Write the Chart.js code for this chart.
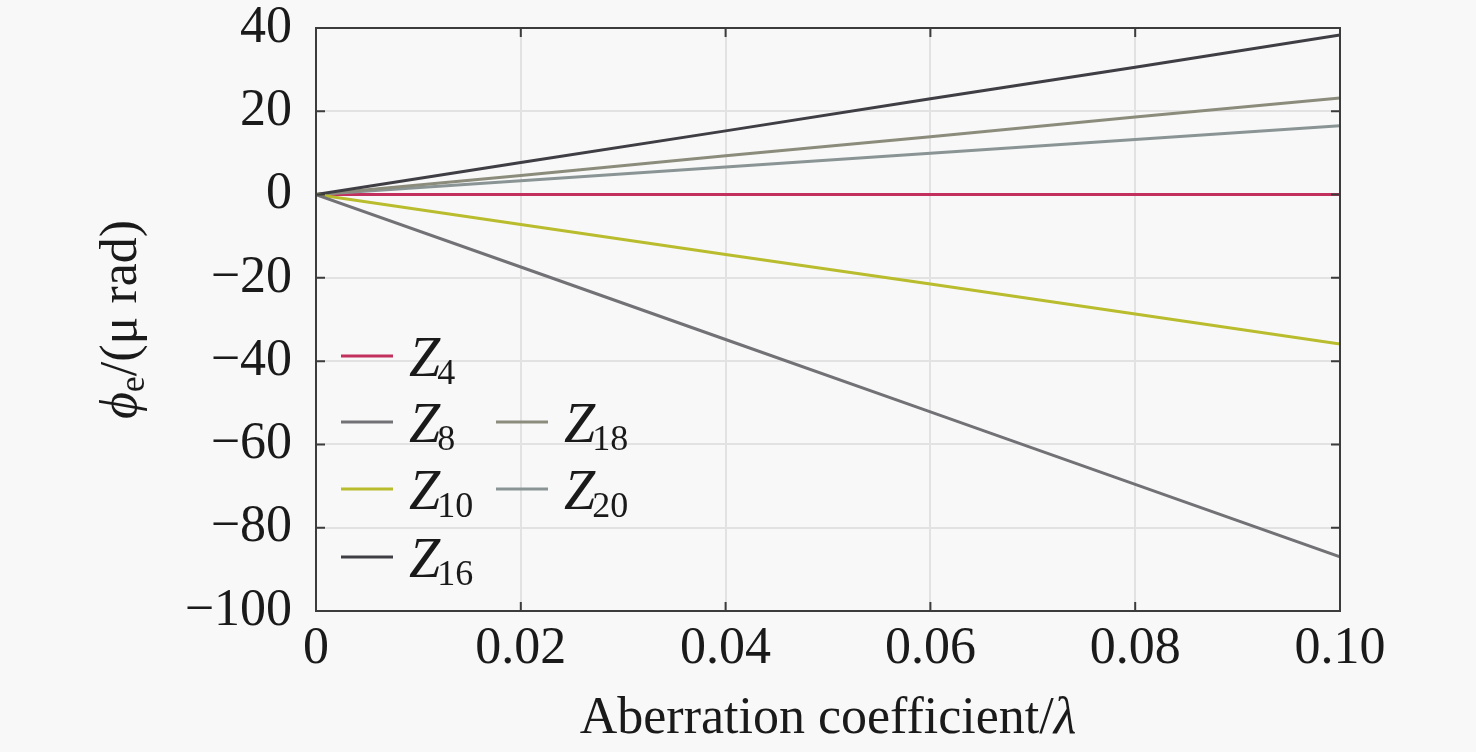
<!DOCTYPE html>
<html lang="en">
<head>
<meta charset="UTF-8">
<title>Tilt error vs aberration coefficient</title>
<script src="https://cdn.jsdelivr.net/npm/chart.js"></script>
<style>
  html, body { margin: 0; padding: 0; background: #f8f8f8; }
  #wrap { width: 1476px; height: 752px; }
</style>
</head>
<body>
<div id="wrap"><canvas id="chart" width="1476" height="752"></canvas></div>
<script>
// values
const coefficients = [0, 0.02, 0.04, 0.06, 0.08, 0.10];
const z4Values  = [0, 0, 0, 0, 0, 0];
const z8Values  = [0, -17.4, -34.8, -52.2, -69.6, -87.0];
const z10Values = [0, -7.2, -14.4, -21.5, -28.7, -35.9];
const z16Values = [0, 7.7, 15.3, 23.0, 30.6, 38.3];
const z18Values = [0, 4.6, 9.3, 13.9, 18.6, 23.2];
const z20Values = [0, 3.3, 6.6, 9.9, 13.2, 16.5];

const seriesNames = ['4', '8', '10', '16', '18', '20'];
const seriesValues = [z4Values, z8Values, z10Values, z16Values, z18Values, z20Values];
const seriesColors = ['#c2305e', '#727276', '#b9bc2c', '#3e3e44', '#8c8c7c', '#8a9494'];

const SERIF = "'Liberation Serif', 'Times New Roman', serif";
const FONT_SIZE = 52;
const LEG_SIZE = 56;
const SUB_SIZE = 36;

const datasets = seriesValues.map((vals, i) => ({
    label: 'Z' + seriesNames[i],
    data: coefficients.map((x, j) => ({ x: x, y: vals[j] })),
    borderColor: seriesColors[i],
    borderWidth: 3,
    pointRadius: 0,
    fill: false,
    tension: 0
}));
// draw Z4 on top like the reference
datasets.push(datasets.shift());

// box, inward ticks, legend and axis titles
const decorPlugin = {
    id: 'decor',
    afterDatasetsDraw(chart) {
        const ctx = chart.ctx;
        const a = chart.chartArea;
        const xs = chart.scales.x, ys = chart.scales.y;
        ctx.save();
        ctx.strokeStyle = '#3c3c3c';
        ctx.lineWidth = 2;
        ctx.strokeRect(a.left, a.top, a.right - a.left, a.bottom - a.top);
        const tl = 9;
        ctx.beginPath();
        xs.ticks.forEach(t => {
            const px = xs.getPixelForValue(t.value);
            ctx.moveTo(px, a.bottom); ctx.lineTo(px, a.bottom - tl);
            ctx.moveTo(px, a.top); ctx.lineTo(px, a.top + tl);
        });
        ys.ticks.forEach(t => {
            const py = ys.getPixelForValue(t.value);
            ctx.moveTo(a.left, py); ctx.lineTo(a.left + tl, py);
            ctx.moveTo(a.right, py); ctx.lineTo(a.right - tl, py);
        });
        ctx.stroke();
        ctx.restore();
    },
    afterDraw(chart) {
        const ctx = chart.ctx;
        const a = chart.chartArea;
        ctx.save();
        ctx.fillStyle = '#1a1a1a';
        ctx.textBaseline = 'alphabetic';

        // legend (two columns)
        const slots = [
            { col: 0, row: 0 }, { col: 0, row: 1 }, { col: 0, row: 2 },
            { col: 0, row: 3 }, { col: 1, row: 1 }, { col: 1, row: 2 }
        ];
        const colX = [341, 496];
        const rowY = [356, 422, 489, 557];
        slots.forEach((s, i) => {
            const x0 = colX[s.col], y0 = rowY[s.row];
            ctx.strokeStyle = seriesColors[i];
            ctx.lineWidth = 3;
            ctx.beginPath();
            ctx.moveTo(x0, y0); ctx.lineTo(x0 + 52, y0);
            ctx.stroke();
            ctx.textAlign = 'left';
            ctx.font = 'italic ' + LEG_SIZE + 'px ' + SERIF;
            const zx = x0 + 68;
            ctx.fillText('Z', zx, y0 + 20);
            const zw = ctx.measureText('Z').width;
            ctx.font = SUB_SIZE + 'px ' + SERIF;
            ctx.fillText(seriesNames[i], zx + zw - 3, y0 + 28);
        });

        // x axis title
        ctx.font = FONT_SIZE + 'px ' + SERIF;
        const mainTxt = 'Aberration coefficient/';
        const w1 = ctx.measureText(mainTxt).width;
        ctx.font = 'italic ' + FONT_SIZE + 'px ' + SERIF;
        const w2 = ctx.measureText('λ').width;
        const sx = (a.left + a.right) / 2 - (w1 + w2) / 2;
        ctx.textAlign = 'left';
        ctx.font = FONT_SIZE + 'px ' + SERIF;
        ctx.fillText(mainTxt, sx, 733);
        ctx.font = 'italic ' + FONT_SIZE + 'px ' + SERIF;
        ctx.fillText('λ', sx + w1, 733);

        // y axis title (rotated)
        ctx.translate(136, (a.top + a.bottom) / 2);
        ctx.rotate(-Math.PI / 2);
        ctx.font = 'italic ' + FONT_SIZE + 'px ' + SERIF;
        const pw = ctx.measureText('ϕ').width;
        ctx.font = SUB_SIZE + 'px ' + SERIF;
        const ew = ctx.measureText('e').width;
        ctx.font = FONT_SIZE + 'px ' + SERIF;
        const restTxt = '/(μ rad)';
        const rw = ctx.measureText(restTxt).width;
        const tx = -(pw + ew + rw) / 2;
        ctx.font = 'italic ' + FONT_SIZE + 'px ' + SERIF;
        ctx.fillText('ϕ', tx, 0);
        ctx.font = SUB_SIZE + 'px ' + SERIF;
        ctx.fillText('e', tx + pw, 8);
        ctx.font = FONT_SIZE + 'px ' + SERIF;
        ctx.fillText(restTxt, tx + pw + ew, 0);
        ctx.restore();
    }
};

new Chart(document.getElementById('chart').getContext('2d'), {
    type: 'line',
    data: { datasets: datasets },
    options: {
        responsive: false,
        animation: false,
        layout: { padding: { left: 0, top: 28, right: 136, bottom: 0 } },
        plugins: { legend: { display: false }, tooltip: { enabled: false } },
        scales: {
            x: {
                type: 'linear',
                min: 0,
                max: 0.1,
                afterFit(scale) {
                    scale.height = 141;
                    scale.paddingLeft = 0;
                    scale.paddingRight = 0;
                },
                grid: { color: '#e2e2e2', lineWidth: 2, drawTicks: false },
                border: { display: false },
                ticks: {
                    stepSize: 0.02,
                    padding: 12,
                    color: '#1a1a1a',
                    maxRotation: 0,
                    font: { family: SERIF, size: FONT_SIZE, lineHeight: 1 },
                    callback: v => (Math.abs(v) < 1e-9 ? '0' : v.toFixed(2))
                }
            },
            y: {
                min: -100,
                max: 40,
                afterFit(scale) {
                    scale.width = 316;
                    scale.paddingTop = 0;
                    scale.paddingBottom = 0;
                },
                grid: { color: '#e2e2e2', lineWidth: 2, drawTicks: false },
                border: { display: false },
                ticks: {
                    stepSize: 20,
                    padding: 24,
                    color: '#1a1a1a',
                    font: { family: SERIF, size: FONT_SIZE, lineHeight: 1 },
                    callback: v => (v < 0 ? '\u2212' + Math.abs(v) : String(v))
                }
            }
        }
    },
    plugins: [decorPlugin]
});
</script>
</body>
</html>
